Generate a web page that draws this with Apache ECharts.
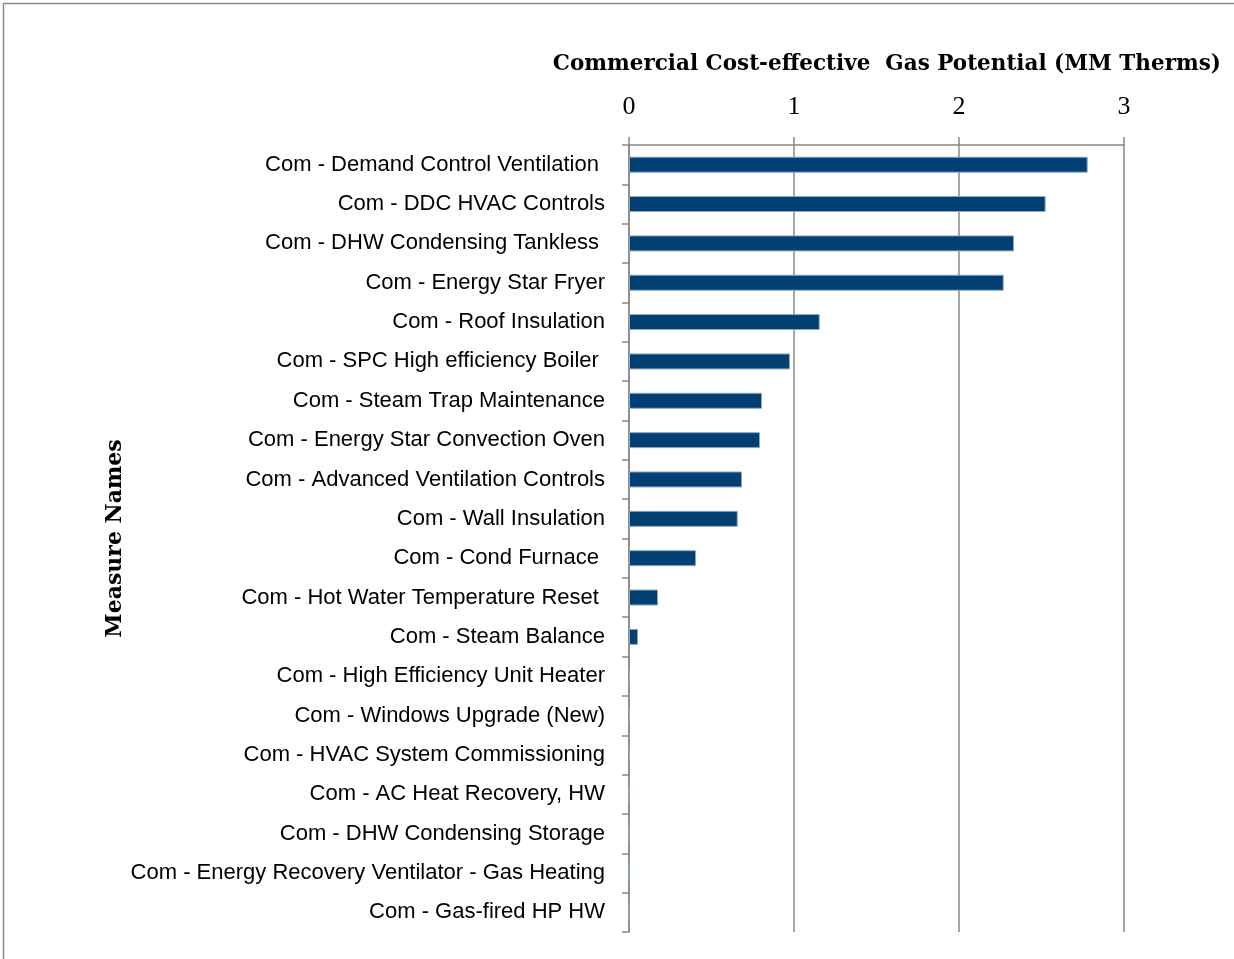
<!DOCTYPE html>
<html><head><meta charset="utf-8">
<script src="https://cdn.jsdelivr.net/npm/echarts@6/dist/echarts.min.js"></script>
<style>html,body{margin:0;padding:0;background:#fff}#c{width:1234px;height:959px}</style>
</head><body><div id="c"></div>
<script>
const categories = [
  "Com - Demand Control Ventilation ",
  "Com - DDC HVAC Controls",
  "Com - DHW Condensing Tankless ",
  "Com - Energy Star Fryer",
  "Com - Roof Insulation",
  "Com - SPC High efficiency Boiler ",
  "Com - Steam Trap Maintenance",
  "Com - Energy Star Convection Oven",
  "Com - Advanced Ventilation Controls",
  "Com - Wall Insulation",
  "Com - Cond Furnace ",
  "Com - Hot Water Temperature Reset ",
  "Com - Steam Balance",
  "Com - High Efficiency Unit Heater",
  "Com - Windows Upgrade (New)",
  "Com - HVAC System Commissioning",
  "Com - AC Heat Recovery, HW",
  "Com - DHW Condensing Storage",
  "Com - Energy Recovery Ventilator - Gas Heating",
  "Com - Gas-fired HP HW"
];
const potentialValues = [2.78, 2.525, 2.333, 2.271, 1.156, 0.976, 0.806, 0.794, 0.685, 0.659, 0.406, 0.176, 0.055, 0.006, 0.006, 0.006, 0, 0, 0, 0];
const tickValues = [0, 1, 2, 3];

const chart = echarts.init(document.getElementById('c'), null, {renderer: 'canvas'});
const serif = "'DejaVu Serif', 'Liberation Serif', serif";
const narrow = "'Liberation Sans Narrow', 'Arial Narrow', 'Liberation Sans', sans-serif";
chart.setOption({
  animation: false,
  backgroundColor: '#fff',
  title: {
    text: 'Commercial Cost-effective  Gas Potential (MM Therms)',
    right: 8, top: 48,
    textStyle: {fontFamily: serif, fontWeight: 'bold', fontSize: 21.5, color: '#000'}
  },
  graphic: [{
    type: 'rect', silent: true,
    shape: {x: 3.5, y: 3.5, width: 1240, height: 970},
    style: {fill: 'none', stroke: '#888', lineWidth: 1.5}
  }],
  grid: {left: 629, right: 110, top: 145, bottom: 27, containLabel: false},
  xAxis: {
    type: 'value', position: 'top',
    min: tickValues[0], max: tickValues[tickValues.length - 1], interval: 1,
    axisLine: {show: true, lineStyle: {color: '#888', width: 1.5}},
    axisTick: {show: true, length: 8, lineStyle: {color: '#888', width: 1.5}},
    splitLine: {show: true, lineStyle: {color: '#888', width: 1.5}},
    axisLabel: {margin: 25, fontFamily: "'Liberation Serif', serif", fontSize: 26, color: '#000'}
  },
  yAxis: {
    type: 'category', inverse: true, data: categories,
    name: 'Measure Names', nameLocation: 'middle', nameGap: 503, nameRotate: 90,
    nameTextStyle: {fontFamily: serif, fontWeight: 'bold', fontSize: 22, color: '#000'},
    axisLine: {show: true, lineStyle: {color: '#888', width: 1.5}},
    axisTick: {show: true, length: 7, alignWithLabel: false, lineStyle: {color: '#888', width: 1.5}},
    axisLabel: {margin: 24, fontFamily: narrow, fontSize: 22, color: '#000', interval: 0, padding: [5, 0, 0, 0]}
  },
  series: [{
    type: 'bar', data: potentialValues, barWidth: 16,
    itemStyle: {color: '#023F73', borderColor: '#8ea8c3', borderWidth: 1}
  }]
});
</script></body></html>
